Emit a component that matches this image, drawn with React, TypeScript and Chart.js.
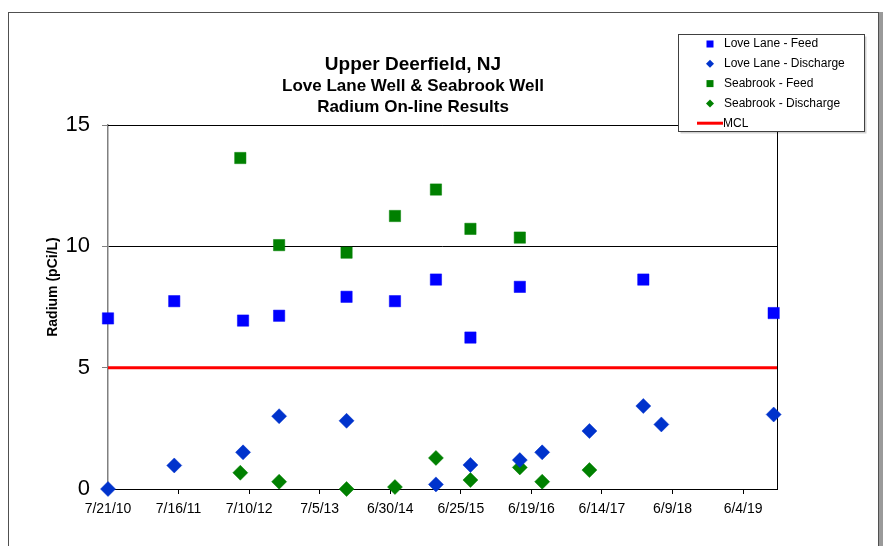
import React, { useEffect, useRef } from 'react';
import { Chart, registerables } from 'chart.js';

Chart.register(...registerables);

const FONT = '"Liberation Sans", Arial, sans-serif';

// ---- text ----
const titleLines = ['Upper Deerfield, NJ', 'Love Lane Well & Seabrook Well', 'Radium On-line Results'];
const yAxisTitle = 'Radium (pCi/L)';

// ---- axes ----
const xTickLabels = ['7/21/10', '7/16/11', '7/10/12', '7/5/13', '6/30/14', '6/25/15', '6/19/16', '6/14/17', '6/9/18', '6/4/19'];
const xAxisStart = '2010-07-21';
const xAxisEnd = '2019-11-24';
const yMin = 0;
const yMax = 15;
const yStep = 5;
const mclValue = 5;

// ---- series ----
const loveLaneFeedDates = ['2010-07-21', '2011-06-24', '2012-06-09', '2012-12-10', '2013-11-19', '2014-07-24', '2015-02-18', '2015-08-13', '2016-04-21', '2018-01-11', '2019-11-07'];
const loveLaneFeedValues = [7.03, 7.74, 6.94, 7.14, 7.92, 7.74, 8.63, 6.24, 8.33, 8.63, 7.25];

const loveLaneDischargeDates = ['2010-07-21', '2011-06-24', '2012-06-09', '2012-12-10', '2013-11-19', '2015-02-18', '2015-08-13', '2016-04-21', '2016-08-13', '2017-04-11', '2018-01-11', '2018-04-13', '2019-11-07'];
const loveLaneDischargeValues = [0, 0.97, 1.51, 3.0, 2.81, 0.19, 0.99, 1.19, 1.51, 2.39, 3.42, 2.66, 3.07];

const seabrookFeedDates = ['2012-05-26', '2012-12-10', '2013-11-19', '2014-07-24', '2015-02-18', '2015-08-13', '2016-04-21'];
const seabrookFeedValues = [13.64, 10.05, 9.74, 11.25, 12.34, 10.72, 10.36];

const seabrookDischargeDates = ['2012-05-26', '2012-12-10', '2013-11-19', '2014-07-24', '2015-02-18', '2015-08-13', '2016-04-21', '2016-08-13', '2017-04-11'];
const seabrookDischargeValues = [0.67, 0.3, 0, 0.08, 1.28, 0.37, 0.89, 0.3, 0.78];

// ---- helpers ----
function dayNum(iso: string): number {
  const [y, m, d] = iso.split('-').map(Number);
  return Date.UTC(y, m - 1, d) / 86400000;
}
function tickDay(lbl: string): number {
  const [m, d, y] = lbl.split('/').map(Number);
  return Date.UTC(2000 + y, m - 1, d) / 86400000;
}
function toPoints(dates: string[], vals: number[]) {
  return dates.map((d, i) => ({ x: dayNum(d), y: vals[i] }));
}

const xMin = dayNum(xAxisStart);
const xMax = dayNum(xAxisEnd);
const xTickValues = xTickLabels.map(tickDay);

const decorPlugin = {
  id: 'decor',
  beforeDraw(chart: any) {
    const ctx = chart.ctx;
    ctx.save();
    ctx.fillStyle = '#ffffff';
    ctx.fillRect(0, 0, chart.width, chart.height);
    // outer frame
    ctx.strokeStyle = '#505050';
    ctx.lineWidth = 1;
    ctx.strokeRect(8.5, 12.5, 870, 600);
    ctx.fillStyle = '#9a9a9a';
    ctx.fillRect(879, 12, 4, 600);
    ctx.restore();
  },
  beforeDatasetsDraw(chart: any) {
    const ctx = chart.ctx;
    const a = chart.chartArea;
    ctx.save();
    ctx.strokeStyle = '#000000';
    ctx.lineWidth = 1;
    ctx.beginPath();
    ctx.moveTo(a.left, Math.round(a.top) + 0.5);
    ctx.lineTo(Math.round(a.right) + 0.5, Math.round(a.top) + 0.5);
    ctx.lineTo(Math.round(a.right) + 0.5, a.bottom);
    ctx.stroke();
    ctx.restore();
  },
  afterDraw(chart: any) {
    const ctx = chart.ctx;
    ctx.save();
    // title
    ctx.fillStyle = '#000000';
    ctx.textAlign = 'center';
    ctx.textBaseline = 'alphabetic';
    const tx = 413;
    const sizes = [19, 17, 17];
    const bases = [70, 91, 112];
    titleLines.forEach((t, i) => {
      ctx.font = `bold ${sizes[i]}px ${FONT}`;
      ctx.fillText(t, tx, bases[i]);
    });
    // y axis title
    ctx.save();
    ctx.translate(53, 287);
    ctx.rotate(-Math.PI / 2);
    ctx.font = `bold 14px ${FONT}`;
    ctx.textBaseline = 'middle';
    ctx.fillText(yAxisTitle, 0, 0);
    ctx.restore();

    // legend
    const lx = 678.5, ly = 34.5, lw = 186, lh = 97;
    ctx.fillStyle = 'rgba(0,0,0,0.18)';
    ctx.fillRect(lx + 2, ly + 2, lw, lh);
    ctx.fillStyle = '#ffffff';
    ctx.fillRect(lx, ly, lw, lh);
    ctx.strokeStyle = '#404040';
    ctx.lineWidth = 1;
    ctx.strokeRect(lx, ly, lw, lh);
    ctx.font = `12px ${FONT}`;
    ctx.textAlign = 'left';
    ctx.textBaseline = 'middle';
    chart.data.datasets.forEach((ds: any, i: number) => {
      const cy = 44 + i * 19.8;
      const mx = 710;
      if (ds.showLine) {
        ctx.strokeStyle = ds.borderColor;
        ctx.lineWidth = 3;
        ctx.beginPath();
        ctx.moveTo(697, cy);
        ctx.lineTo(723, cy);
        ctx.stroke();
      } else if (ds.pointStyle === 'rect') {
        ctx.fillStyle = ds.backgroundColor;
        ctx.fillRect(mx - 3.5, cy - 3.5, 7, 7);
      } else {
        ctx.fillStyle = ds.backgroundColor;
        ctx.beginPath();
        ctx.moveTo(mx, cy - 4);
        ctx.lineTo(mx + 4, cy);
        ctx.lineTo(mx, cy + 4);
        ctx.lineTo(mx - 4, cy);
        ctx.closePath();
        ctx.fill();
      }
      ctx.fillStyle = '#000000';
      ctx.fillText(ds.label, ds.showLine ? 723 : 724, cy);
    });
    ctx.restore();
  },
};

export default function App() {
  const ref = useRef<HTMLCanvasElement | null>(null);
  useEffect(() => {
    if (!ref.current) return;
    const chart = new Chart(ref.current, {
      type: 'scatter',
      data: {
        datasets: [
          {
            label: 'Love Lane - Feed',
            data: toPoints(loveLaneFeedDates, loveLaneFeedValues),
            pointStyle: 'rect',
            pointRadius: 8,
            backgroundColor: '#0000FF',
            borderColor: '#0000FF',
            borderWidth: 0.5,
            clip: false,
            order: 0,
          },
          {
            label: 'Love Lane - Discharge',
            data: toPoints(loveLaneDischargeDates, loveLaneDischargeValues),
            pointStyle: 'rectRot',
            pointRadius: 7.5,
            backgroundColor: '#0033CC',
            borderColor: '#0033CC',
            borderWidth: 0.5,
            clip: false,
            order: 0,
          },
          {
            label: 'Seabrook - Feed',
            data: toPoints(seabrookFeedDates, seabrookFeedValues),
            pointStyle: 'rect',
            pointRadius: 8,
            backgroundColor: '#008000',
            borderColor: '#008000',
            borderWidth: 0.5,
            clip: false,
            order: 0,
          },
          {
            label: 'Seabrook - Discharge',
            data: toPoints(seabrookDischargeDates, seabrookDischargeValues),
            pointStyle: 'rectRot',
            pointRadius: 7.5,
            backgroundColor: '#008000',
            borderColor: '#008000',
            borderWidth: 0.5,
            clip: false,
            order: 0,
          },
          {
            label: 'MCL',
            type: 'line',
            data: [
              { x: xMin, y: mclValue },
              { x: xMax, y: mclValue },
            ],
            showLine: true,
            borderColor: '#FF0000',
            backgroundColor: '#FF0000',
            borderWidth: 3,
            pointRadius: 0,
            fill: false,
            order: 1,
          } as any,
        ],
      },
      options: {
        responsive: false,
        animation: false,
        devicePixelRatio: 1,
        events: [],
        layout: { padding: { left: 0, top: 125, right: 108, bottom: 0 } },
        plugins: {
          legend: { display: false },
          title: { display: false },
          tooltip: { enabled: false },
        },
        scales: {
          x: {
            type: 'linear',
            min: xMin,
            max: xMax,
            afterFit: (s: any) => {
              s.height = 57;
            },
            afterBuildTicks: (s: any) => {
              s.ticks = xTickValues.map((v) => ({ value: v }));
            },
            ticks: {
              autoSkip: false,
              maxRotation: 0,
              minRotation: 0,
              padding: 7,
              color: '#000000',
              font: { family: FONT, size: 14 },
              callback: (_v: any, i: number) => xTickLabels[i],
            },
            grid: {
              drawOnChartArea: false,
              drawTicks: true,
              tickLength: 5,
              tickColor: '#000000',
              color: '#000000',
            },
            border: { color: '#000000', width: 1 },
          },
          y: {
            type: 'linear',
            min: yMin,
            max: yMax,
            afterFit: (s: any) => {
              s.width = 108;
            },
            ticks: {
              stepSize: yStep,
              padding: 12,
              color: '#000000',
              font: { family: FONT, size: 22 },
            },
            grid: {
              drawTicks: true,
              tickLength: 6,
              tickColor: '#808080',
              color: (c: any) => (c.tick && (c.tick.value === 0 || c.tick.value === 5) ? 'rgba(0,0,0,0)' : '#000000'),
              lineWidth: 1,
            },
            border: { color: '#808080', width: 1.5 },
          },
        },
      },
      plugins: [decorPlugin],
    } as any);
    return () => chart.destroy();
  }, []);
  return (
    <div style={{ position: 'absolute', left: 0, top: 0, width: 885, height: 546 }}>
      <canvas ref={ref} width={885} height={546} style={{ width: 885, height: 546, display: 'block' }} />
    </div>
  );
}
